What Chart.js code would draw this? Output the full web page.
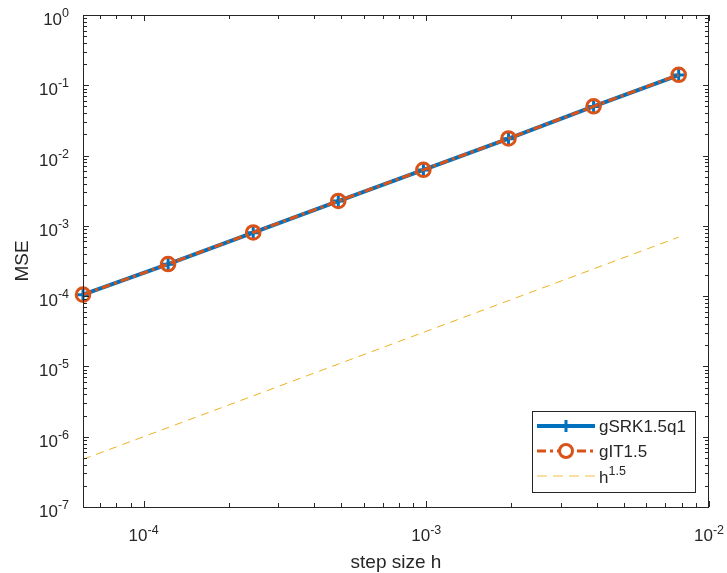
<!DOCTYPE html>
<html>
<head>
<meta charset="utf-8">
<script src="https://cdn.jsdelivr.net/npm/chart.js@4.4.1/dist/chart.umd.min.js"></script>
<style>
  html, body { margin: 0; padding: 0; background: #fff; }
  #wrap { width: 727px; height: 573px; }
</style>
</head>
<body>
<div id="wrap"><canvas id="mseCanvas" width="727" height="573"></canvas></div>
<script>
// step sizes h = 2^-14 ... 2^-7
const stepSizes = [6.1035e-5, 1.2207e-4, 2.4414e-4, 4.8828e-4, 9.7656e-4, 1.9531e-3, 3.9063e-3, 7.8125e-3];
// MSE
const srkMse = [1.05e-4, 2.85e-4, 8.0e-4, 2.25e-3, 6.25e-3, 1.74e-2, 5.0e-2, 1.40e-1];
const itMse = [1.05e-4, 2.86e-4, 8.05e-4, 2.26e-3, 6.27e-3, 1.75e-2, 5.02e-2, 1.41e-1];
// reference slope h^1.5
const refLine = [4.77e-7, 1.35e-6, 3.81e-6, 1.08e-5, 3.05e-5, 8.63e-5, 2.44e-4, 6.91e-4];

const xTickExps = [-4, -3, -2];
const yTickExps = [0, -1, -2, -3, -4, -5, -6, -7];

const seriesNames = ['gSRK1.5q1', 'gIT1.5', 'h'];
const BLUE = '#0072BD', ORANGE = '#D95319', YELLOW = '#EDB120', INK = '#262626';
const FONT = '"Liberation Sans", Arial, Helvetica, sans-serif';

const toPts = (ys) => stepSizes.map((h, i) => ({ x: h, y: ys[i] }));

// draws "10^e" style text; align: 'right' | 'center' | 'left'
function drawPow(c, base, exp, x, y, align, baseSize, expSize, rise) {
  c.font = baseSize + 'px ' + FONT;
  const wb = c.measureText(base).width;
  c.font = expSize + 'px ' + FONT;
  const we = c.measureText(exp).width;
  const total = wb + we;
  let x0 = x;
  if (align === 'right') x0 = x - total;
  else if (align === 'center') x0 = x - total / 2;
  c.textAlign = 'left';
  c.textBaseline = 'alphabetic';
  c.font = baseSize + 'px ' + FONT;
  c.fillText(base, x0, y);
  c.font = expSize + 'px ' + FONT;
  c.fillText(exp, x0 + wb, y - rise);
}

// MATLAB-like axes box, inward ticks, labels, legend
const matlabAxes = {
  id: 'matlabAxes',
  afterDatasetsDraw(chart) {
    const c = chart.ctx;
    const a = chart.chartArea;
    const xs = chart.scales.x, ys = chart.scales.y;
    c.save();
    c.strokeStyle = INK;
    c.fillStyle = INK;
    c.lineWidth = 1;

    // box
    c.strokeRect(a.left + 0.5, a.top + 0.5, a.right - a.left - 1, a.bottom - a.top);

    c.beginPath();
    // x ticks (major + minor)
    for (let e = -5; e <= -2; e++) {
      for (let m = 1; m <= 9; m++) {
        const v = m * Math.pow(10, e);
        if (v < xs.min * 0.999 || v > xs.max * 1.001) continue;
        const px = Math.round(xs.getPixelForValue(v)) + 0.5;
        const len = m === 1 ? 6 : 4;
        c.moveTo(px, a.bottom); c.lineTo(px, a.bottom - len);
        c.moveTo(px, a.top); c.lineTo(px, a.top + len);
      }
    }
    // y ticks
    for (let e = -7; e <= 0; e++) {
      for (let m = 1; m <= 9; m++) {
        const v = m * Math.pow(10, e);
        if (v < ys.min * 0.999 || v > ys.max * 1.001) continue;
        const py = Math.round(ys.getPixelForValue(v)) + 0.5;
        const len = m === 1 ? 6 : 4;
        c.moveTo(a.left, py); c.lineTo(a.left + len, py);
        c.moveTo(a.right, py); c.lineTo(a.right - len, py);
      }
    }
    c.stroke();

    // tick labels
    yTickExps.forEach(e => {
      const py = ys.getPixelForValue(Math.pow(10, e));
      drawPow(c, '10', String(e), a.left - 14, py + 10, 'right', 17, 12.5, 8);
    });
    xTickExps.forEach(e => {
      const px = xs.getPixelForValue(Math.pow(10, e));
      drawPow(c, '10', String(e), px, a.bottom + 34, 'center', 17, 12.5, 7);
    });

    // axis titles
    c.font = '19px ' + FONT;
    c.textAlign = 'center';
    c.textBaseline = 'alphabetic';
    c.fillText('step size h', (a.left + a.right) / 2, 568);
    c.save();
    c.translate(28, (a.top + a.bottom) / 2);
    c.rotate(-Math.PI / 2);
    c.fillText('MSE', 0, 0);
    c.restore();

    // legend
    const lx = 532, ly = 411, lw = 163, lh = 81;
    c.fillStyle = '#fff';
    c.fillRect(lx, ly, lw, lh);
    c.strokeStyle = INK;
    c.lineWidth = 1;
    c.strokeRect(lx + 0.5, ly + 0.5, lw, lh);
    const x1 = 537, x2 = 595, xm = 566;
    // row 1
    let ry = 426;
    c.strokeStyle = BLUE; c.lineWidth = 4; c.setLineDash([]);
    c.beginPath(); c.moveTo(x1, ry); c.lineTo(x2, ry); c.stroke();
    c.lineWidth = 3;
    c.beginPath(); c.moveTo(xm - 6, ry); c.lineTo(xm + 6, ry); c.moveTo(xm, ry - 6); c.lineTo(xm, ry + 6); c.stroke();
    // row 2
    ry = 451;
    c.strokeStyle = ORANGE; c.lineWidth = 3; c.setLineDash([9, 4, 3, 4]);
    c.beginPath(); c.moveTo(x1, ry); c.lineTo(x2, ry); c.stroke();
    c.setLineDash([]); c.lineWidth = 3;
    c.fillStyle = '#fff';
    c.beginPath(); c.arc(xm, ry, 6.5, 0, Math.PI * 2); c.fill(); c.stroke();
    // row 3
    ry = 476;
    c.strokeStyle = YELLOW; c.globalAlpha = 0.55; c.lineWidth = 1.5; c.setLineDash([10, 6]);
    c.beginPath(); c.moveTo(x1, ry); c.lineTo(x2, ry); c.stroke();
    c.globalAlpha = 1; c.setLineDash([]);

    c.fillStyle = INK;
    c.font = '17px ' + FONT;
    c.textAlign = 'left';
    c.textBaseline = 'middle';
    c.fillText(seriesNames[0], 599, 427);
    c.fillText(seriesNames[1], 599, 452);
    c.textBaseline = 'alphabetic';
    drawPow(c, seriesNames[2], '1.5', 599, 483, 'left', 17, 12.5, 8);
    c.restore();
  }
};

new Chart(document.getElementById('mseCanvas'), {
  type: 'line',
  data: {
    datasets: [
      {
        label: seriesNames[0],
        data: toPts(srkMse),
        borderColor: BLUE,
        backgroundColor: BLUE,
        borderWidth: 4,
        pointStyle: 'cross',
        pointRadius: 6,
        pointBorderWidth: 3,
        clip: false,
        order: 3
      },
      {
        label: seriesNames[1],
        data: toPts(itMse),
        borderColor: ORANGE,
        backgroundColor: 'rgba(0,0,0,0)',
        borderWidth: 3,
        borderDash: [9, 4, 3, 4],
        pointStyle: 'circle',
        pointRadius: 6.8,
        pointBorderWidth: 3,
        clip: false,
        order: 2
      },
      {
        label: 'h^1.5',
        data: toPts(refLine),
        borderColor: YELLOW,
        borderWidth: 1,
        borderDash: [8, 6],
        pointRadius: 0,
        order: 1
      }
    ]
  },
  options: {
    responsive: false,
    animation: false,
    layout: { padding: { left: 83, top: 15, right: 18, bottom: 66 } },
    scales: {
      x: { type: 'logarithmic', min: 6.1035e-5, max: 1e-2, display: false },
      y: { type: 'logarithmic', min: 1e-7, max: 1, display: false }
    },
    plugins: {
      legend: { display: false },
      tooltip: { enabled: false }
    }
  },
  plugins: [matlabAxes]
});
</script>
</body>
</html>
